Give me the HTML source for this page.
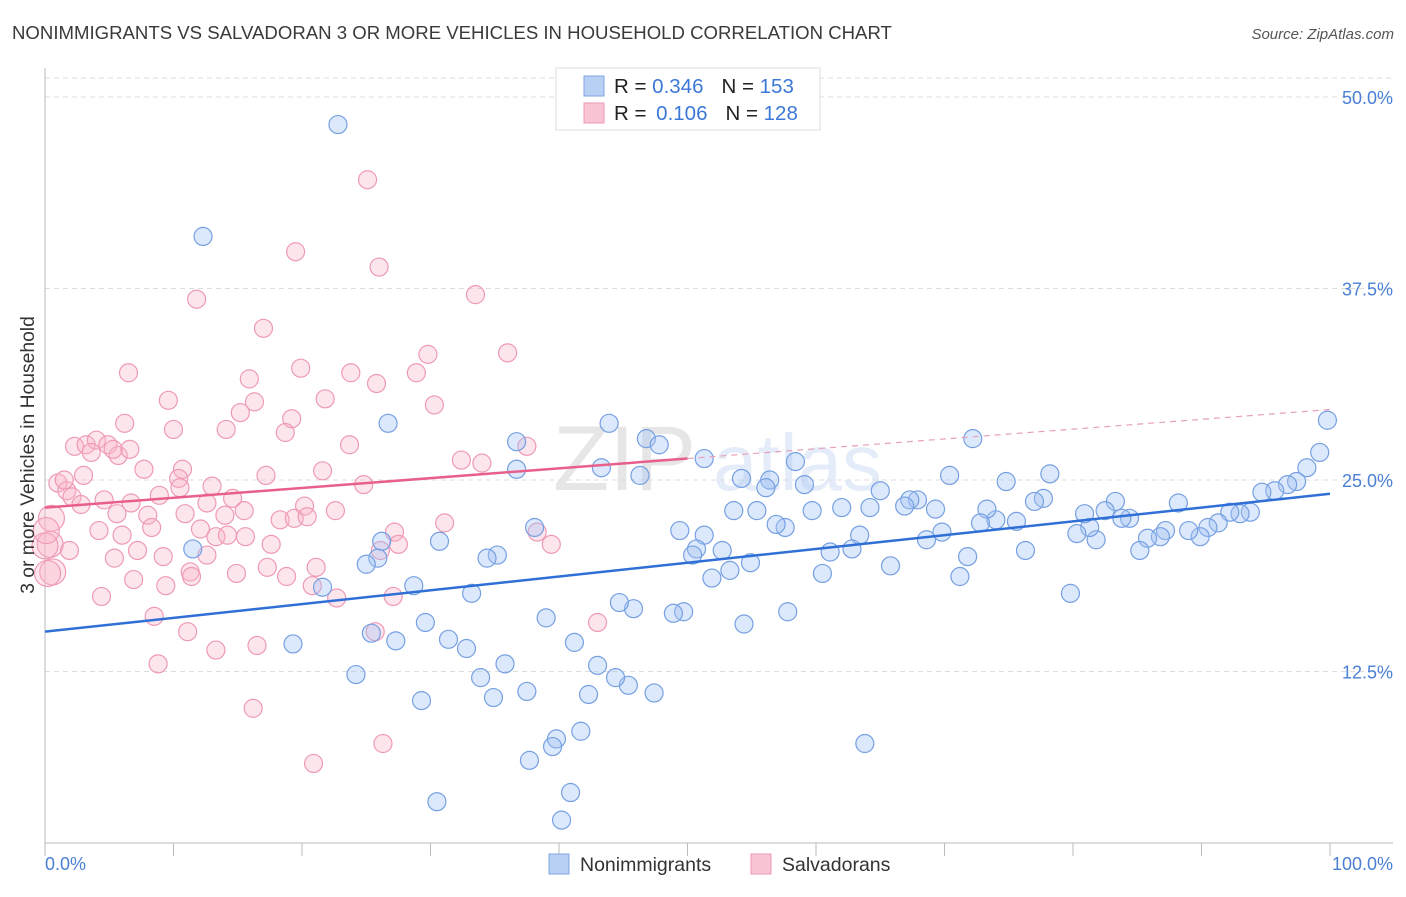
<!DOCTYPE html>
<html><head><meta charset="utf-8"><style>
body{margin:0;background:#fff;font-family:"Liberation Sans",sans-serif;}
svg text{font-family:"Liberation Sans",sans-serif;}
</style></head><body>
<svg id="chart" width="1406" height="892" viewBox="0 0 1406 892" xmlns="http://www.w3.org/2000/svg">
<text x="12" y="39" font-size="18.6" fill="#3a3a3a">NONIMMIGRANTS VS SALVADORAN 3 OR MORE VEHICLES IN HOUSEHOLD CORRELATION CHART</text>
<text x="1394" y="39" font-size="15" fill="#555" text-anchor="end" font-style="italic">Source: ZipAtlas.com</text>
<g opacity="0.18">
<text x="553" y="490" font-size="92" font-family="Liberation Serif,serif" fill="#777">ZIP</text>
<text x="713" y="490" font-size="80" fill="#6f9be0">atlas</text>
</g>
<g id="grid"></g>
<g id="axes"></g>
<g id="pts"></g>
<g id="lines"></g>
<text transform="translate(34,455) rotate(-90)" font-size="19.3" fill="#333" text-anchor="middle">3 or more Vehicles in Household</text>
<g>
<rect x="556" y="68" width="264" height="62" fill="#fff" stroke="#ddd"/>
<rect x="584" y="76" width="20" height="20" fill="#b8d0f4" stroke="#7fa6e4"/>
<rect x="584" y="103" width="20" height="20" fill="#f9c4d4" stroke="#ec9ab5"/>
<text x="614" y="93" font-size="20.5" fill="#222">R = <tspan fill="#3c78d8">0.346</tspan><tspan dx="18">N = </tspan><tspan fill="#3c78d8">153</tspan></text>
<text x="614" y="120" font-size="20.5" fill="#222">R = <tspan fill="#3c78d8" dx="4">0.106</tspan><tspan dx="18">N = </tspan><tspan fill="#3c78d8">128</tspan></text>
</g>
<g>
<rect x="549" y="854" width="20" height="20" fill="#b8d0f4" stroke="#7fa6e4"/>
<text x="580" y="871" font-size="19.5" fill="#333">Nonimmigrants</text>
<rect x="751" y="854" width="20" height="20" fill="#f9c4d4" stroke="#ec9ab5"/>
<text x="782" y="871" font-size="19.5" fill="#333">Salvadorans</text>
</g>
</svg>
<script>
const yTicks=[12.5,25,37.5,50];
const yTickLabels=["12.5%","25.0%","37.5%","50.0%"];
const xTickCount=10;
const blueX=[22.8,12.3,26.7,43.9,36.7,46.8,47.8,51.3,43.3,36.7,46.3,72.2,99.8,99.2,98.2,97.4,96.7,95.7,94.7,93.8,93.0,92.2,91.3,90.5,89.9,89.0,88.2,87.2,86.8,85.8,85.2,84.4,83.8,83.3,82.5,81.8,81.3,80.9,80.3,79.8,78.2,77.7,77.0,76.3,75.6,74.8,74.0,73.3,72.8,71.8,71.2,70.4,69.8,69.3,68.6,67.9,67.3,66.9,65.8,65.0,64.2,63.4,62.8,62.0,61.1,60.5,59.7,59.1,58.4,57.6,56.9,56.4,56.1,55.4,54.9,54.4,54.2,53.6,53.3,52.7,51.9,51.3,50.7,50.4,49.7,48.9,49.4,45.8,44.7,47.4,45.4,44.4,43.0,42.3,41.7,41.2,40.9,40.2,39.8,39.5,39.0,37.7,38.1,37.5,35.8,35.2,34.4,34.9,33.9,32.8,33.2,31.4,30.7,29.6,29.3,28.7,27.3,26.2,25.9,25.0,25.4,24.2,21.6,19.3,11.5,30.5,63.8,57.8];
const blueY=[48.2,40.9,28.7,28.7,27.5,27.7,27.3,26.4,25.8,25.7,25.3,27.7,28.9,26.8,25.8,24.9,24.7,24.3,24.2,22.9,22.8,22.9,22.2,21.9,21.3,21.7,23.5,21.7,21.3,21.2,20.4,22.5,22.5,23.6,23.0,21.1,21.9,22.8,21.5,17.6,25.4,23.8,23.6,20.4,22.3,24.9,22.4,23.1,22.2,20.0,18.7,25.3,21.6,23.1,21.1,23.7,23.7,23.3,19.4,24.3,23.2,21.4,20.5,23.2,20.3,18.9,23.0,24.7,26.2,21.9,22.1,25.0,24.5,23.0,19.6,15.6,25.1,23.0,19.1,20.4,18.6,21.4,20.5,20.1,16.4,16.3,21.7,16.6,17.0,11.1,11.6,12.1,12.9,11.0,8.6,14.4,4.6,2.8,8.1,7.6,16.0,6.7,21.9,11.2,13.0,20.1,19.9,10.8,12.1,14.0,17.6,14.6,21.0,15.7,10.6,18.1,14.5,21.0,19.9,19.5,15.0,12.3,18.0,14.3,20.5,4.0,7.8,16.4];
const pinkX=[25.1,19.5,26.0,33.5,11.8,17.0,36.0,29.8,19.9,6.5,15.9,23.8,25.8,28.9,30.3,9.6,21.8,15.2,16.3,19.2,6.2,14.1,10.0,18.7,23.7,37.5,32.4,34.0,2.3,3.2,4.0,4.9,5.7,6.6,3.6,5.3,7.7,10.7,10.4,17.2,21.6,1.0,1.7,3.0,1.5,2.1,4.6,6.7,8.9,10.5,13.0,14.6,20.2,24.8,0.5,2.8,5.6,8.0,8.3,10.9,12.6,14.0,15.5,18.3,19.4,20.4,22.6,31.1,38.3,39.4,1.9,4.2,5.4,6.0,7.2,9.2,12.1,13.3,15.6,17.6,26.1,27.2,27.5,0.4,0.6,4.4,6.9,9.4,11.3,11.4,12.6,14.9,17.3,18.8,21.1,20.8,22.7,27.1,8.5,11.1,13.3,16.5,25.7,8.8,16.2,20.9,26.3,43.0,14.2,0.0,0.1,0.2];
const pinkY=[44.6,39.9,38.9,37.1,36.8,34.9,33.3,33.2,32.3,32.0,31.6,32.0,31.3,32.0,29.9,30.2,30.3,29.4,30.1,29.0,28.7,28.3,28.3,28.1,27.3,27.2,26.3,26.1,27.2,27.3,27.6,27.3,26.6,27.0,26.8,27.0,25.7,25.7,25.1,25.3,25.6,24.8,24.3,25.3,25.0,23.9,23.7,23.5,24.0,24.5,24.6,23.8,23.3,24.7,22.5,23.4,22.8,22.7,21.9,22.8,23.5,22.7,23.0,22.4,22.5,22.6,23.0,22.2,21.6,20.8,20.4,21.7,19.9,21.4,20.4,20.0,21.8,21.3,21.3,20.8,20.4,21.6,20.8,20.8,19.0,17.4,18.5,18.1,19.0,18.7,20.1,18.9,19.3,18.7,19.3,18.1,17.3,17.4,16.1,15.1,13.9,14.2,15.1,13.0,10.1,6.5,7.8,15.7,21.4,20.7,21.7,18.9];
const blueLineX=[0,100];
const blueLineY=[15.1,24.1];
const pinkLineX=[0,50,100];
const pinkLineY=[23.2,26.4,29.6];

const NS="http://www.w3.org/2000/svg";
const X0=45,X1=1330,YB=863,PPY=15.32;
function sx(v){return X0+(X1-X0)*v/100;}
function sy(v){return YB-v*PPY;}
function mk(tag,attrs,parent){const e=document.createElementNS(NS,tag);for(const k in attrs)e.setAttribute(k,attrs[k]);parent.appendChild(e);return e;}
const grid=document.getElementById('grid'),axes=document.getElementById('axes'),pts=document.getElementById('pts'),lines=document.getElementById('lines');
let g=mk('line',{x1:X0,x2:1393,y1:78,y2:78,stroke:'#ddd','stroke-dasharray':'5,4'},grid);


yTicks.forEach((t,i)=>{
  const l=mk('line',{x1:X0,x2:1393,y1:sy(t),y2:sy(t),stroke:'#ddd','stroke-dasharray':'5,4'},grid);
  
  
  const tx=mk('text',{x:1393,y:sy(t)+7,'font-size':18,fill:'#4a7fd4','text-anchor':'end'},axes);
  tx.textContent=yTickLabels[i];
  
  
});
let a=mk('line',{x1:X0,x2:X0,y1:68,y2:843,stroke:'#bbb'},axes);


a=mk('line',{x1:X0,x2:1393,y1:843,y2:843,stroke:'#bbb'},axes);


for(let i=0;i<=xTickCount;i++){
  const t=mk('line',{x1:sx(i*10),x2:sx(i*10),y1:843,y2:856,stroke:'#bbb'},axes);
  
  
}
let xl=mk('text',{x:45,y:870,'font-size':18,fill:'#4a7fd4'},axes);xl.textContent='0.0%';


xl=mk('text',{x:1393,y:870,'font-size':18,fill:'#4a7fd4','text-anchor':'end'},axes);xl.textContent='100.0%';



pinkX.forEach((x,i)=>{
  const c=mk('circle',{cx:sx(x),cy:sy(pinkY[i]),r:x<1?13:9,fill:'rgba(248,180,200,0.35)',stroke:'#ee9ab6','stroke-width':1.2},pts);
  
  
});
blueX.forEach((x,i)=>{
  const c=mk('circle',{cx:sx(x),cy:sy(blueY[i]),r:9,fill:'rgba(164,194,244,0.38)',stroke:'#76a0e2','stroke-width':1.2},pts);
  
  
});
let bl=mk('line',{x1:sx(blueLineX[0]),y1:sy(blueLineY[0]),x2:sx(blueLineX[1]),y2:sy(blueLineY[1]),stroke:'#2f6fd6','stroke-width':2.5},lines);


let pl=mk('line',{x1:sx(pinkLineX[0]),y1:sy(pinkLineY[0]),x2:sx(pinkLineX[1]),y2:sy(pinkLineY[1]),stroke:'#e8608a','stroke-width':2.5},lines);


let pd=mk('line',{x1:sx(pinkLineX[1]),y1:sy(pinkLineY[1]),x2:sx(pinkLineX[2]),y2:sy(pinkLineY[2]),stroke:'#e8a0b8','stroke-width':1.2,'stroke-dasharray':'6,5'},lines);


</script>
</body></html>
